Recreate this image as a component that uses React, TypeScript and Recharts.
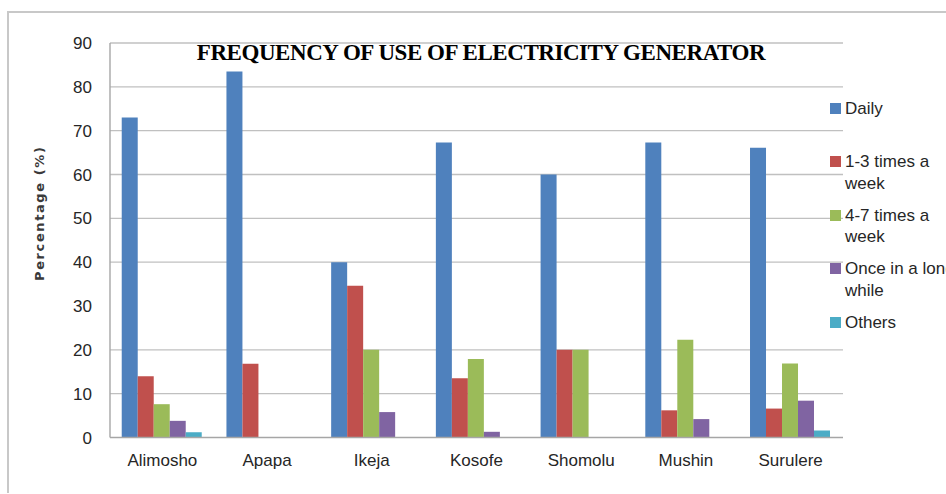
import React from "react";
import {
  BarChart,
  Bar,
  XAxis,
  YAxis,
  CartesianGrid,
  Legend,
  Label,
} from "recharts";

// Survey areas (x axis)
const AREAS = [
  "Alimosho",
  "Apapa",
  "Ikeja",
  "Kosofe",
  "Shomolu",
  "Mushin",
  "Surulere",
];

// Percentage of respondents per frequency group
const DAILY = [73, 83.5, 40, 67.3, 60, 67.3, 66.1];
const ONE_TO_THREE_WEEKLY = [14, 16.8, 34.6, 13.5, 20, 6.2, 6.6];
const FOUR_TO_SEVEN_WEEKLY = [7.6, 0, 20, 17.9, 20, 22.3, 16.9];
const ONCE_IN_A_LONG_WHILE = [3.8, 0, 5.8, 1.3, 0, 4.2, 8.4];
const OTHERS = [1.2, 0, 0, 0, 0, 0, 1.6];

const Y_TICKS = [0, 10, 20, 30, 40, 50, 60, 70, 80, 90];
// the 30 line is not drawn on the original sheet
const GRID_LEVELS = [10, 20, 40, 50, 60, 70, 80, 90];

const SERIES = [
  { key: "daily", name: "Daily", color: "#4F81BD", values: DAILY },
  { key: "oneToThree", name: "1-3 times a week", color: "#C0504D", values: ONE_TO_THREE_WEEKLY },
  { key: "fourToSeven", name: "4-7 times a week", color: "#9BBB59", values: FOUR_TO_SEVEN_WEEKLY },
  { key: "onceInAWhile", name: "Once in a long while", color: "#8064A2", values: ONCE_IN_A_LONG_WHILE },
  { key: "others", name: "Others", color: "#4BACC6", values: OTHERS },
];

const chartData = AREAS.map((area, i) => {
  const row: Record<string, string | number> = { area };
  SERIES.forEach((s) => {
    row[s.key] = s.values[i];
  });
  return row;
});

const FONT = '"Liberation Sans", Arial, sans-serif';
const TEXT_COLOR = "#262626";

const renderLegend = () => (
  <div style={{ fontFamily: FONT, fontSize: 17, color: TEXT_COLOR }}>
    {SERIES.map((s) => (
      <div
        key={s.key}
        style={{ display: "flex", alignItems: "flex-start", height: 53.5 }}
      >
        <span
          style={{
            display: "inline-block",
            width: 11,
            height: 11,
            marginTop: 5,
            marginRight: 4,
            background: s.color,
            flexShrink: 0,
          }}
        />
        <span style={{ width: 116, lineHeight: "21.5px" }}>{s.name}</span>
      </div>
    ))}
  </div>
);

const renderYLabel = (props: any) => {
  const vb = props.viewBox;
  const x = vb.x - 11;
  const y = vb.y + vb.height / 2 - 27;
  return (
    <text
      x={x}
      y={y}
      transform={`rotate(-90, ${x}, ${y})`}
      textAnchor="middle"
      dominantBaseline="central"
      style={{
        fontFamily: '"DejaVu Sans", Verdana, sans-serif',
        fontSize: 13,
        fontWeight: "bold",
        letterSpacing: 1.6,
        fill: "#3a3a3a",
      }}
    >
      Percentage (%)
    </text>
  );
};

export default function App() {
  return (
    <div
      style={{
        position: "fixed",
        left: 0,
        top: 0,
        width: 946,
        height: 494,
        overflow: "hidden",
        background: "#fff",
      }}
    >
      <div
        style={{
          position: "relative",
          marginTop: 11,
          marginLeft: 7,
          width: 960,
          borderTop: "2px solid #c8c8c8",
          borderLeft: "2px solid #c8c8c8",
        }}
      >
        <div
          style={{
            position: "absolute",
            left: 0,
            width: 944,
            top: 27,
            textAlign: "center",
            fontFamily: '"Liberation Serif", "Times New Roman", serif',
            fontWeight: "bold",
            fontSize: 23,
            letterSpacing: -0.45,
            color: "#000",
            zIndex: 2,
            pointerEvents: "none",
          }}
        >
          FREQUENCY OF USE OF ELECTRICITY GENERATOR
        </div>
        <BarChart
          width={940}
          height={480}
          data={chartData}
          margin={{ top: 30, right: 106, bottom: 25.5, left: 41 }}
          barCategoryGap="11.2%"
          barGap={0}
        >
          <CartesianGrid
            vertical={false}
            horizontalValues={GRID_LEVELS}
            stroke="#c0c0c0"
            strokeWidth={1.4}
          />
          <XAxis
            dataKey="area"
            tickLine={false}
            axisLine={{ stroke: "#a6a6a6", strokeWidth: 1.4 }}
            tickMargin={10}
            tick={{ fontFamily: FONT, fontSize: 17, fill: TEXT_COLOR }}
          />
          <YAxis
            domain={[0, 90]}
            ticks={Y_TICKS}
            interval={0}
            width={60}
            tickLine={false}
            axisLine={{ stroke: "#a6a6a6", strokeWidth: 1.4 }}
            tickMargin={12}
            tick={{ fontFamily: FONT, fontSize: 17, fill: TEXT_COLOR }}
          >
            <Label content={renderYLabel} />
          </YAxis>
          <Legend
            layout="vertical"
            align="center"
            verticalAlign="middle"
            content={renderLegend}
            wrapperStyle={{ left: 821, top: 84.5, width: 140 }}
          />
          {SERIES.map((s) => (
            <Bar
              key={s.key}
              dataKey={s.key}
              name={s.name}
              fill={s.color}
              isAnimationActive={false}
            />
          ))}
        </BarChart>
      </div>
    </div>
  );
}
